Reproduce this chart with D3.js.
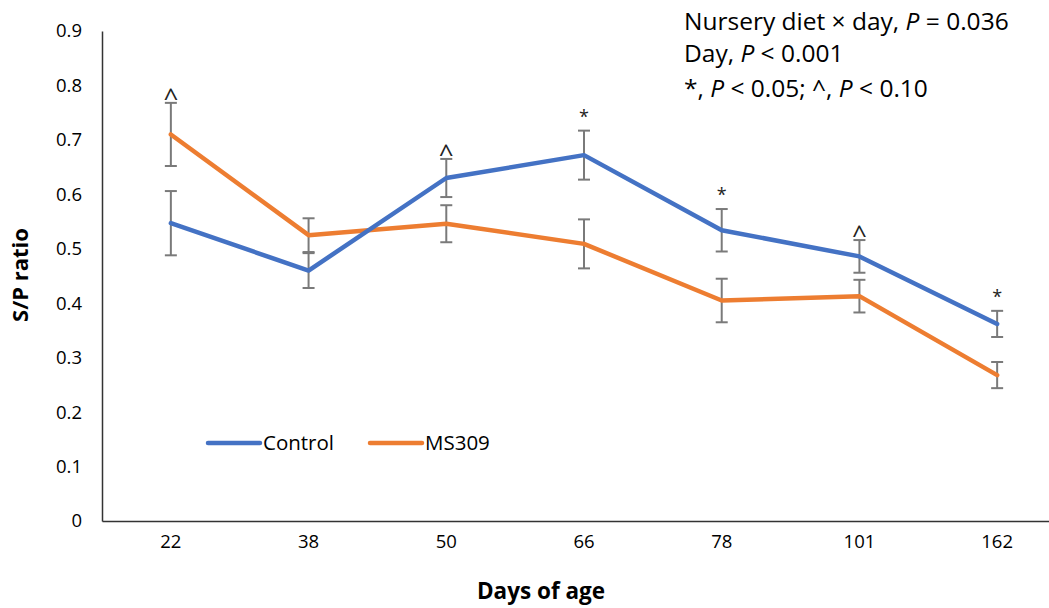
<!DOCTYPE html>
<html><head><meta charset="utf-8">
<script src="https://cdn.jsdelivr.net/npm/d3@7"></script>
<style>body{margin:0;background:#fff}svg{display:block}text{font-family:"Open Sans","Noto Sans",sans-serif}</style>
</head><body>
<svg id="c" width="1049" height="608"></svg>
<script>
const days = ["22","38","50","66","78","101","162"];
const controlMean = [0.547,0.460,0.630,0.672,0.534,0.486,0.362];
const controlSE   = [0.059,0.032,0.035,0.045,0.039,0.030,0.024];
const ms309Mean   = [0.710,0.525,0.546,0.509,0.405,0.413,0.268];
const ms309SE     = [0.058,0.031,0.034,0.045,0.040,0.030,0.024];
const sigMarks    = ["^","","^","*","*","^","*"];
const yTicks = [0,0.1,0.2,0.3,0.4,0.5,0.6,0.7,0.8,0.9];
const annotations = ["Nursery diet × day, ", "Day, ", "*, "];

const svg = d3.select("#c");
const x = d3.scaleBand().domain(days).range([102, 1066]);
const y = d3.scaleLinear().domain([0,0.9]).range([521,31]);
const cx = d => x(d) + x.bandwidth()/2;

// axes
const yAx = svg.append("g").attr("transform","translate(102,0)")
  .call(d3.axisLeft(y).tickValues(yTicks).tickSize(0).tickPadding(20).tickFormat(d=>d===0?"0":d3.format(".1f")(d)));
yAx.select(".domain").attr("stroke","#333").attr("stroke-width",1.5);
yAx.selectAll("text").attr("font-size",18.5).attr("fill","#000");
const xAx = svg.append("g").attr("transform","translate(0,521)")
  .call(d3.axisBottom(x).tickSize(0).tickPadding(14));
xAx.select(".domain").attr("stroke","#333").attr("stroke-width",1.5);
xAx.selectAll("text").attr("font-size",18.5).attr("fill","#000");

// error bars
function errBars(means, ses){
  const g = svg.append("g").attr("stroke","#7a7a7a").attr("stroke-width",2);
  days.forEach((d,i)=>{
    const xx = cx(d), t = y(means[i]+ses[i]), b = y(means[i]-ses[i]);
    g.append("line").attr("x1",xx).attr("x2",xx).attr("y1",t).attr("y2",b);
    g.append("line").attr("x1",xx-6).attr("x2",xx+6).attr("y1",t).attr("y2",t);
    g.append("line").attr("x1",xx-6).attr("x2",xx+6).attr("y1",b).attr("y2",b);
  });
}
errBars(controlMean, controlSE);
errBars(ms309Mean, ms309SE);

const line = d3.line().x((v,i)=>cx(days[i])).y(v=>y(v));
svg.append("path").attr("d",line(ms309Mean)).attr("fill","none").attr("stroke","#ED7D31").attr("stroke-width",4.5).attr("stroke-linejoin","round").attr("stroke-linecap","round");
svg.append("path").attr("d",line(controlMean)).attr("fill","none").attr("stroke","#4472C4").attr("stroke-width",4.5).attr("stroke-linejoin","round").attr("stroke-linecap","round");

// significance markers
days.forEach((d,i)=>{
  if(!sigMarks[i]) return;
  const top = Math.max(controlMean[i]+controlSE[i], ms309Mean[i]+ms309SE[i]);
  const isCaret = sigMarks[i]==="^";
  svg.append("text").attr("x",cx(d)).attr("y",y(top)-(isCaret?-4:8))
    .attr("text-anchor","middle").attr("font-size",isCaret?26:18).attr("fill","#222").text(sigMarks[i]);
});

// legend
const leg = [["Control","#4472C4",208],["MS309","#ED7D31",370]];
leg.forEach(([n,c,lx])=>{
  svg.append("line").attr("x1",lx).attr("x2",lx+52).attr("y1",443).attr("y2",443).attr("stroke",c).attr("stroke-width",4.5).attr("stroke-linecap","round");
  svg.append("text").attr("x",lx+55).attr("y",450).attr("font-size",20.5).attr("fill","#000").text(n);
});

// axis titles
svg.append("text").attr("transform","translate(28,275) rotate(-90)").attr("text-anchor","middle")
  .attr("font-size",22).attr("font-weight","bold").attr("fill","#000").text("S/P ratio");
svg.append("text").attr("x",541).attr("y",599).attr("text-anchor","middle")
  .attr("font-size",22.5).attr("font-weight","bold").attr("fill","#000").text("Days of age");

// annotation
const ann = svg.append("g").attr("font-size",24.5).attr("fill","#000");
const t1 = ann.append("text").attr("x",684).attr("y",30);
t1.append("tspan").text(annotations[0]); t1.append("tspan").attr("font-style","italic").text("P"); t1.append("tspan").text(" = 0.036");
const t2 = ann.append("text").attr("x",684).attr("y",62);
t2.append("tspan").text(annotations[1]); t2.append("tspan").attr("font-style","italic").text("P"); t2.append("tspan").text(" < 0.001");
const t3 = ann.append("text").attr("x",684).attr("y",97);
t3.append("tspan").text(annotations[2]); t3.append("tspan").attr("font-style","italic").text("P"); t3.append("tspan").text(" < 0.05; ^, ");
t3.append("tspan").attr("font-style","italic").text("P"); t3.append("tspan").text(" < 0.10");
</script>
</body></html>
